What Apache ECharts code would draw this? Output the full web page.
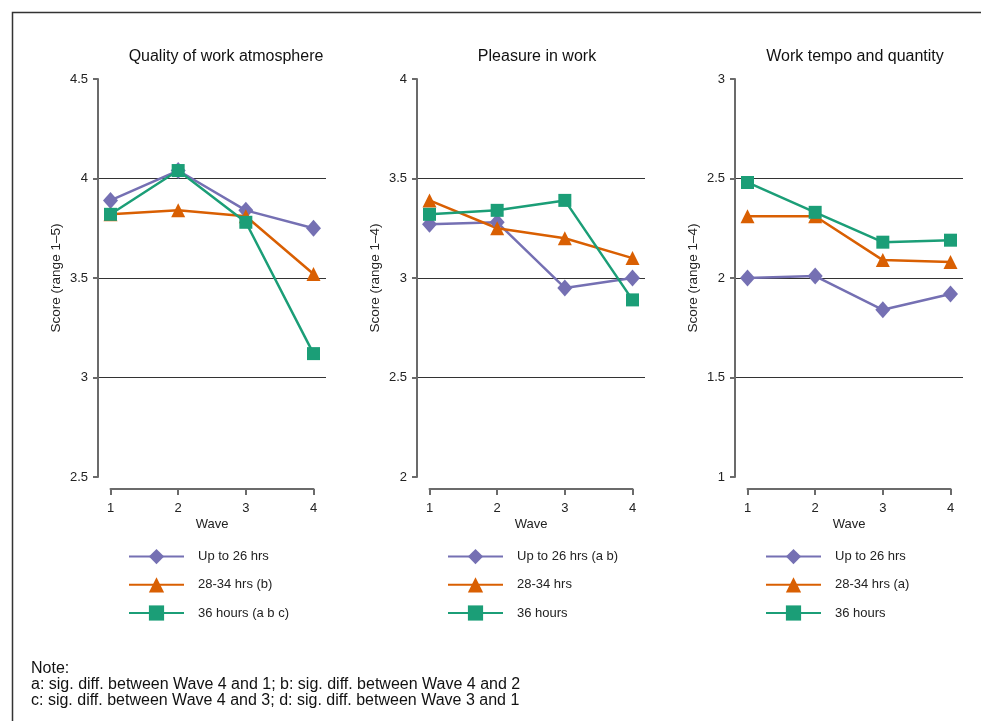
<!DOCTYPE html>
<html lang="en">
<head>
<meta charset="UTF-8">
<title>Work experience by hours</title>
<script src="https://cdn.jsdelivr.net/npm/echarts@6.0.0/dist/echarts.min.js"></script>
<style>
  html, body { margin: 0; padding: 0; background: #fff; }
  #main { width: 981px; height: 721px; }
</style>
</head>
<body>
<div id="main"></div>
<script type="text/javascript">
// data
const waves = [1, 2, 3, 4];
const panelTitles = ['Quality of work atmosphere', 'Pleasure in work', 'Work tempo and quantity'];
const yNames = ['Score (range 1\u20135)', 'Score (range 1\u20134)', 'Score (range 1\u20134)'];
const yMins = [2.5, 2, 1];
const yMaxs = [4.5, 4, 3];
const upTo26 = [[3.89, 4.04, 3.84, 3.75], [3.27, 3.28, 2.95, 3.00], [2.00, 2.01, 1.84, 1.92]];
const hrs2834 = [[3.82, 3.84, 3.81, 3.52], [3.39, 3.25, 3.20, 3.10], [2.31, 2.31, 2.09, 2.08]];
const hours36 = [[3.82, 4.04, 3.78, 3.12], [3.32, 3.34, 3.39, 2.89], [2.48, 2.33, 2.18, 2.19]];
const legendNames = [
  ['Up to 26 hrs', '28-34 hrs (b)', '36 hours (a b c)'],
  ['Up to 26 hrs (a b)', '28-34 hrs', '36 hours'],
  ['Up to 26 hrs', '28-34 hrs (a)', '36 hours']
];
const noteLines = [
  'Note:',
  'a: sig. diff. between Wave 4 and 1; b: sig. diff. between Wave 4 and 2',
  'c: sig. diff. between Wave 4 and 3; d: sig. diff. between Wave 3 and 1'
];

// look
const font = "'Liberation Sans', Arial, sans-serif";
const colors = ['#7570b3', '#d95f02', '#1b9e77'];
const symbols = ['diamond', 'triangle', 'rect'];
const symbolSizes = [[15, 17], 14, 13];
const axisGrey = '#6b6b6b';

// layout
const panelLefts = [98, 417, 735];
const titleCenters = [226, 537, 855];
const plotTop = 79, plotH = 398, plotW = 228, pad = 12.5;
const span = plotW - 2 * pad;
const unit = span / (waves.length - 1);
const xMin = 1 - pad / unit, xMax = 4 + pad / unit;

const grids = [], xAxes = [], yAxes = [], series = [], titles = [], legends = [];

panelTitles.forEach((t, p) => {
  const left = panelLefts[p];
  // data grid
  grids.push({ left: left, top: plotTop, width: plotW, height: plotH });
  // grid holding only the short wave axis
  grids.push({ left: left + pad, top: plotTop + plotH + 11, width: span, height: 1 });
  const gData = 2 * p, gAxis = 2 * p + 1;

  xAxes.push({
    gridIndex: gData, type: 'value', min: xMin, max: xMax, show: false
  });
  xAxes.push({
    gridIndex: gAxis, type: 'value', min: 1, max: 4, interval: 1,
    name: 'Wave', nameLocation: 'middle', nameGap: 29,
    nameTextStyle: { fontFamily: font, fontSize: 13, color: '#222' },
    axisLine: { lineStyle: { color: axisGrey, width: 2 } },
    axisTick: { length: 6, lineStyle: { color: axisGrey, width: 2 } },
    axisLabel: { margin: 13, fontFamily: font, fontSize: 13, color: '#222' },
    splitLine: { show: false }
  });

  yAxes.push({
    gridIndex: gData, type: 'value', min: yMins[p], max: yMaxs[p], interval: 0.5,
    name: yNames[p], nameLocation: 'middle', nameRotate: 90, nameGap: 35,
    nameTextStyle: { fontFamily: font, fontSize: 13.5, color: '#222' },
    axisLine: { show: true, lineStyle: { color: axisGrey, width: 2 } },
    axisTick: { show: true, length: 5, lineStyle: { color: axisGrey, width: 2 } },
    axisLabel: { margin: 10, fontFamily: font, fontSize: 13, color: '#222' },
    splitLine: { show: true, showMinLine: false, showMaxLine: false,
      lineStyle: { color: '#333', width: 1 } }
  });
  yAxes.push({ gridIndex: gAxis, type: 'value', show: false });

  const sets = [upTo26[p], hrs2834[p], hours36[p]];
  sets.forEach((vals, s) => {
    series.push({
      name: legendNames[p][s],
      type: 'line',
      xAxisIndex: gData, yAxisIndex: gData,
      data: waves.map((w, i) => [w, vals[i]]),
      symbol: symbols[s], symbolSize: symbolSizes[s],
      lineStyle: { color: colors[s], width: 2.5 },
      itemStyle: { color: colors[s] },
      emphasis: { disabled: true },
      animation: false
    });
  });

  titles.push({
    text: t, left: titleCenters[p], top: 49, textAlign: 'center', padding: 0,
    textStyle: { fontFamily: font, fontSize: 16, fontWeight: 'normal', color: '#111' }
  });

  legends.push({
    data: legendNames[p], orient: 'vertical',
    left: left + 30, top: 549, padding: 0,
    itemWidth: 55, itemHeight: 19, itemGap: 13,
    selectedMode: false,
    textStyle: { fontFamily: font, fontSize: 13, color: '#222', padding: [0, 0, 0, 9] }
  });
});

const chart = echarts.init(document.getElementById('main'), null, { renderer: 'canvas' });
chart.setOption({
  backgroundColor: '#fff',
  animation: false,
  title: titles,
  legend: legends,
  grid: grids,
  xAxis: xAxes,
  yAxis: yAxes,
  series: series,
  graphic: [
    { type: 'rect', left: 10, top: 10, shape: { width: 1000, height: 800 },
      style: { fill: 'none', stroke: '#333', lineWidth: 1.5 }, silent: true },
    { type: 'text', left: 31, top: 661,
      style: { text: noteLines.join('\n'), fontFamily: font, fontSize: 16, fill: '#111', lineHeight: 16 } }
  ]
});
</script>
</body>
</html>
